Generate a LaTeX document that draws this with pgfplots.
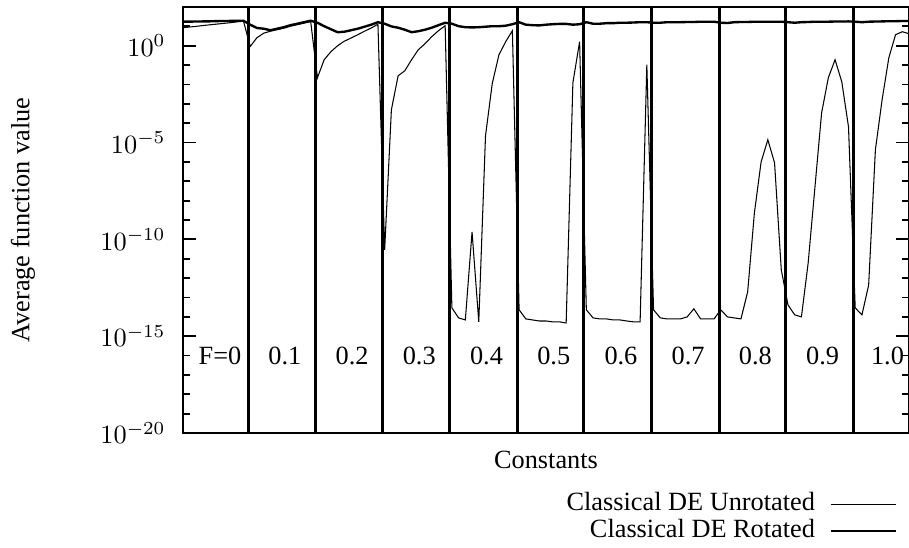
\documentclass[border=0pt]{standalone}
\usepackage{fontspec}
\setmainfont{Liberation Serif}
\usepackage{pgfplots}
\pgfplotsset{compat=1.18}
\usepackage{pgfplotstable}

% Average function value per run; ten crossover settings for each F
\pgfplotstableread{
i   unrot     rot
0   8.51      17.4
1   9.26      17.6
2   10.07     17.8
3   11.07     18.0
4   12.03     18.2
5   13.06     18.7
6   14.2      18.9
7   15.4      19.1
8   17.0      19.4
9   18.5      19.6
10  0.92      12.2
11  2.59      8.22
12  4.43      7.56
13  5.61      6.32
14  6.71      7.56
15  8.02      9.04
16  10.2      11.5
17  12.2      13.7
18  14.6      16.4
19  17.4      19.6
20  0.0222    15.4
21  0.189     10.2
22  0.49      7.13
23  1.0       4.99
24  1.71      5.29
25  2.50      6.32
26  3.70      7.56
27  5.61      9.59
28  8.22      12.2
29  12.9      16.4
30  2.9e-11   13.7
31  4.9e-4    9.94
32  0.028     8.51
33  0.051     6.71
34  0.189     4.99
35  0.62      5.61
36  1.27      6.71
37  2.92      8.51
38  5.96      11.5
39  10.8      15.4
40  2.9e-14   13.7
41  8.8e-15   10.2
42  6.9e-15   9.04
43  2.4e-10   8.83
44  5.5e-15   9.04
45  2.2e-5    9.59
46  0.0109    10.2
47  0.343     10.2
48  1.61      10.8
49  5.96      12.9
50  2.3e-14   16.4
51  7.8e-15   12.2
52  6.9e-15   11.5
53  6.1e-15   11.2
54  6.1e-15   12.2
55  5.5e-15   12.9
56  5.5e-15   13.4
57  4.8e-15   13.4
58  0.0122    12.2
59  1.61      12.9
60  2.3e-14   16.4
61  8.8e-15   13.7
62  7.8e-15   13.7
63  7.8e-15   14.6
64  6.9e-15   14.6
65  6.9e-15   15.4
66  6.1e-15   15.4
67  5.5e-15   15.8
68  5.5e-15   16.4
69  0.104     16.4
70  2.3e-14   15.4
71  8.8e-15   15.4
72  7.8e-15   16.4
73  7.8e-15   16.4
74  7.8e-15   16.4
75  9.9e-15   16.8
76  2.6e-14   16.8
77  7.8e-15   17.4
78  7.8e-15   17.4
79  7.8e-15   17.4
80  2.3e-14   15.4
81  9.9e-15   14.9
82  8.8e-15   16.4
83  7.8e-15   16.8
84  1.94e-13  16.8
85  2.3e-9    17.4
86  1.0e-6    17.4
87  1.39e-5   17.4
88  9.0e-7    17.4
89  2.7e-12   17.4
90  4.1e-14   16.4
91  1.26e-14  15.4
92  9.9e-15   16.4
93  6.1e-12   16.8
94  4.6e-8    17.4
95  3.4e-4    17.4
96  0.0222    17.4
97  0.189     17.8
98  0.0138    17.8
99  6.5e-5    18.0
100 2.9e-14   17.4
101 1.26e-14  16.4
102 4.4e-13   17.4
103 4.2e-6    17.8
104 1.62e-3   18.0
105 0.24      18.5
106 3.70      18.5
107 5.29      18.9
108 4.17      19.1
109 3.29      19.1
}\fdata

\begin{document}
\begin{tikzpicture}
\useasboundingbox (-69.54pt,-43.7pt) rectangle (275.88pt,164.54pt);
\begin{axis}[
  at={(0,0)}, anchor=south west,
  scale only axis, width=275.88pt, height=161.88pt,
  xmin=0, xmax=108,
  ymode=log, ymin=1e-20, ymax=1e2,
  axis on top,
  xtick=\empty,
  ytick={1e-20,1e-15,1e-10,1e-5,1e0},
  minor ytick={1e-19,1e-18,1e-17,1e-16,1e-14,1e-13,1e-12,1e-11,1e-9,1e-8,1e-7,1e-6,1e-4,1e-3,1e-2,1e-1,1e1},
  tick align=inside,
  major tick length=4.9pt, minor tick length=2.7pt,
  every tick/.append style={black, line width=0.7pt},
  axis line style={line width=0.76pt},
  yticklabel style={xshift=-3.1pt},
  extra x ticks={9.7,19.75,29.75,39.7,49.7,59.65,69.65,79.75,89.7,99.7},
  extra x tick labels={},
  extra x tick style={grid=major, major tick length=0pt,
    major grid style={black, line width=1.14pt}},
  xlabel={Constants},
  xlabel style={at={(axis description cs:0.5,-0.0822)}, anchor=base},
  ylabel={Average function value},
  ylabel style={at={(axis description cs:-0.2117,0.5)}, anchor=base},
  legend plot pos=right,
  legend cell align=right,
  legend image code/.code={\draw[#1] (0pt,0pt) -- (24.7pt,0pt);},
  legend style={draw=none, fill=none, inner sep=0pt,
    at={(axis description cs:1,0)}, anchor=south east,
    xshift=-4.2pt, yshift=-41.9pt,
    column sep=5.7pt, row sep=1.2pt,
    nodes={inner sep=0pt, text height=7pt, text depth=2pt}},
]
\addplot[black, line width=0.4pt] table[x=i, y=unrot] {\fdata};
\addlegendentry{Classical DE Unrotated}
\addplot[black, line width=0.9pt] table[x=i, y=rot] {\fdata};
\addlegendentry{Classical DE Rotated}

\node at (axis cs:5.5,1e-16) {F=0};
\node at (axis cs:15.15,1e-16) {0.1};
\node at (axis cs:25.15,1e-16) {0.2};
\node at (axis cs:35.15,1e-16) {0.3};
\node at (axis cs:45.15,1e-16) {0.4};
\node at (axis cs:55.15,1e-16) {0.5};
\node at (axis cs:65.15,1e-16) {0.6};
\node at (axis cs:75.15,1e-16) {0.7};
\node at (axis cs:85.15,1e-16) {0.8};
\node at (axis cs:95.15,1e-16) {0.9};
\node at (axis cs:104.8,1e-16) {1.0};
\end{axis}
\end{tikzpicture}
\end{document}
